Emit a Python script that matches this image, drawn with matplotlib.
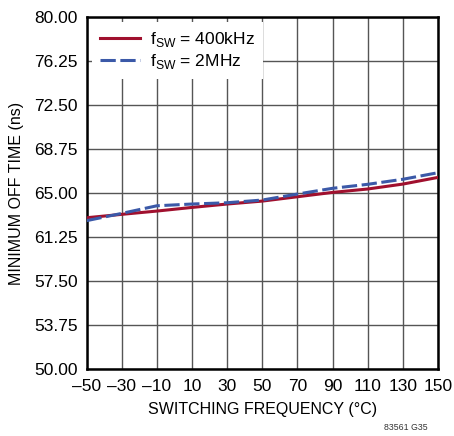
import matplotlib.pyplot as plt
from matplotlib import font_manager

# Data
temps = [-50, -30, -10, 10, 30, 50, 70, 90, 110, 130, 150]
off_400k = [62.89, 63.18, 63.46, 63.77, 64.06, 64.31, 64.68, 65.05, 65.34, 65.76, 66.33]
off_2m = [62.64, 63.26, 63.91, 64.06, 64.17, 64.40, 64.91, 65.40, 65.74, 66.17, 66.73]
yticks = [50.00, 53.75, 57.50, 61.25, 65.00, 68.75, 72.50, 76.25, 80.00]

names = {f.name for f in font_manager.fontManager.ttflist}
fam = 'Liberation Sans Narrow' if 'Liberation Sans Narrow' in names else 'Liberation Sans'
plt.rcParams['font.family'] = [fam, 'DejaVu Sans']
plt.rcParams['font.size'] = 12.5

fig = plt.figure(figsize=(4.54, 4.36), dpi=100)
ax = fig.add_axes([86.5 / 454, 1 - 369 / 436, (438 - 86.5) / 454, (369 - 17) / 436])

ax.plot(temps, off_400k, color='#a0102e', lw=2.2, label='f$_{\\mathregular{SW}}$ = 400kHz', zorder=3)
ax.plot(temps, off_2m, color='#3b59a8', lw=2.2, dashes=(5, 1.5), label='f$_{\\mathregular{SW}}$ = 2MHz', zorder=3)

ax.set_xlim(-50, 150)
ax.set_ylim(50, 80)
ax.set_xticks(temps)
ax.set_xticklabels([str(t).replace('-', '\u2013') for t in temps])
ax.set_yticks(yticks)
ax.set_yticklabels([f'{v:.2f}' for v in yticks])
ax.grid(True, color='#555555', lw=1)
ax.tick_params(axis='x', length=0, pad=7)
ax.tick_params(axis='y', length=0, pad=6.5)
for s in ax.spines.values():
    s.set_linewidth(1.8)
    s.set_color('black')

ax.set_xlabel('SWITCHING FREQUENCY (°C)', labelpad=6, fontsize=11.5)
ax.set_ylabel('MINIMUM OFF TIME (ns)', labelpad=7, fontsize=11.5)

leg = ax.legend(loc='upper left', bbox_to_anchor=(0.0156, 0.986), frameon=True,
                fancybox=False, framealpha=1, edgecolor='white', handlelength=2.3,
                borderpad=0.46, labelspacing=0.17, handletextpad=0.57, borderaxespad=0)
leg.get_frame().set_linewidth(0)

fig.text(0.943, 0.01, '83561 G35', ha='right', va='bottom', fontsize=6.3, color='#333333')

fig.savefig('out.png', dpi=100)
